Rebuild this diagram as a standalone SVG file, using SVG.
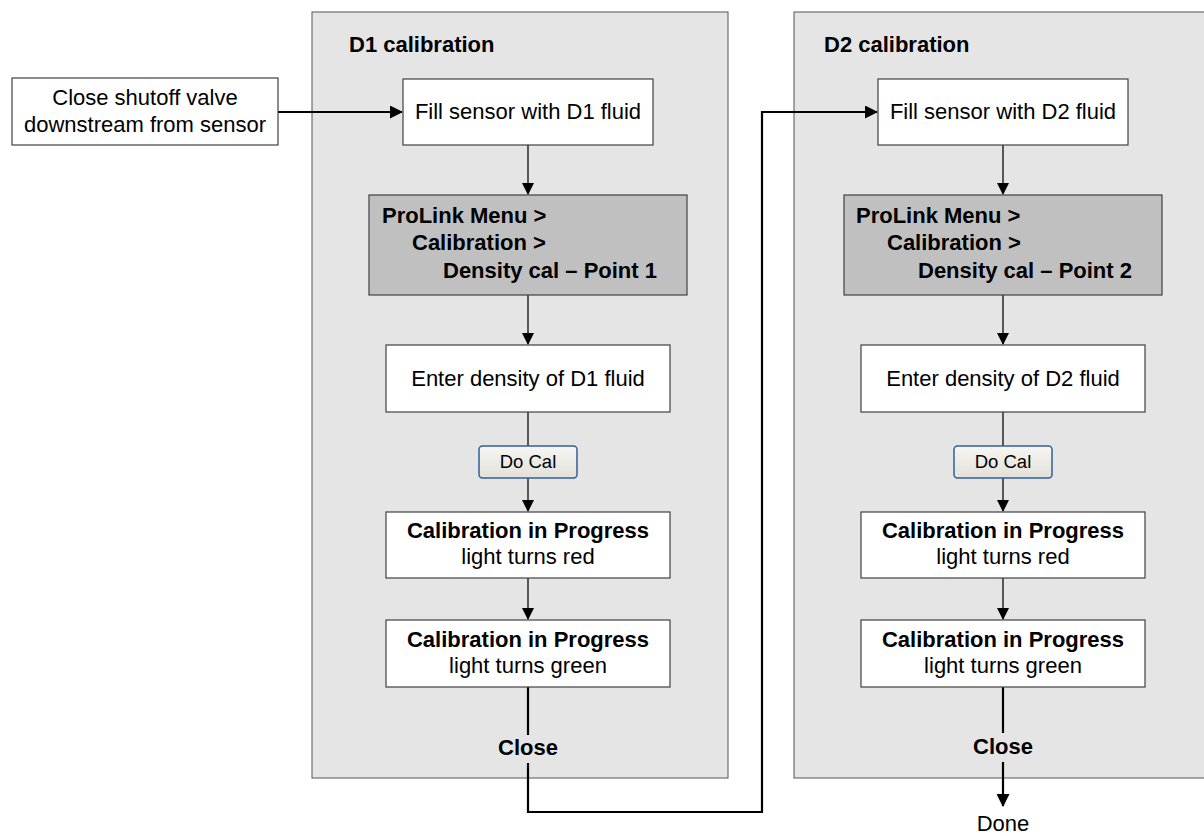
<svg xmlns="http://www.w3.org/2000/svg" width="1204" height="836" viewBox="0 0 1204 836">
  <style>
    text { font-family: "Liberation Sans", Arial, sans-serif; fill: #000; }
    .t { font-size: 22px; }
    .b { font-size: 22px; font-weight: bold; }
    .c { text-anchor: middle; }
    .panel { fill: #e5e5e5; stroke: #555555; stroke-width: 1; }
    .box { fill: #ffffff; stroke: #404040; stroke-width: 1.2; }
    .menu { fill: #c0c0c0; stroke: #404040; stroke-width: 1.2; }
    .btn { fill: url(#btnGrad); stroke: #2f5f9e; stroke-width: 1.5; }
    .btnt { font-size: 18.5px; text-anchor: middle; }
    .thin { fill: none; stroke: #1a1a1a; stroke-width: 1.4; }
    .thick { fill: none; stroke: #000; stroke-width: 2.2; }
  </style>
  <defs>
    <linearGradient id="btnGrad" x1="0" y1="0" x2="0" y2="1">
      <stop offset="0" stop-color="#f7f6f2"/>
      <stop offset="1" stop-color="#e2e0d8"/>
    </linearGradient>
    <marker id="ah" markerUnits="userSpaceOnUse" markerWidth="13" markerHeight="13" refX="12" refY="6.5" orient="auto">
      <path d="M0,0 L13,6.5 L0,13 Z" fill="#000"/>
    </marker>
    <marker id="ahs" markerUnits="userSpaceOnUse" markerWidth="12" markerHeight="12" refX="11" refY="6" orient="auto">
      <path d="M0,0 L12,6 L0,12 Z" fill="#000"/>
    </marker>
  </defs>

  <rect width="1204" height="836" fill="#ffffff"/>

  <g id="panel-d1">
    <rect class="panel" x="312" y="12" width="416" height="766"/>
    <text class="b" x="349" y="52">D1 calibration</text>
  </g>
  <g id="panel-d2">
    <rect class="panel" x="794" y="12" width="416" height="766"/>
    <text class="b" x="824" y="52">D2 calibration</text>
  </g>

  <g id="connectors">
    <path class="thick" d="M278,112 L402,112" marker-end="url(#ah)"/>
    <path class="thin" d="M528,145 L528,194" marker-end="url(#ahs)"/>
    <path class="thin" d="M528,295 L528,344" marker-end="url(#ahs)"/>
    <path class="thin" d="M528,412 L528,446"/>
    <path class="thin" d="M528,478 L528,511" marker-end="url(#ahs)"/>
    <path class="thin" d="M528,578 L528,619" marker-end="url(#ahs)"/>
    <path class="thick" d="M528,687 L528,735"/>
    <path class="thick" d="M528,763 L528,812 L762,812 L762,112 L877,112" marker-end="url(#ah)"/>
    <path class="thin" d="M1003,145 L1003,194" marker-end="url(#ahs)"/>
    <path class="thin" d="M1003,295 L1003,344" marker-end="url(#ahs)"/>
    <path class="thin" d="M1003,412 L1003,446"/>
    <path class="thin" d="M1003,478 L1003,511" marker-end="url(#ahs)"/>
    <path class="thin" d="M1003,578 L1003,619" marker-end="url(#ahs)"/>
    <path class="thick" d="M1003,687 L1003,733"/>
    <path class="thick" d="M1003,762 L1003,806" marker-end="url(#ah)"/>
  </g>

  <g id="close-valve">
    <rect class="box" x="12" y="78" width="266" height="67"/>
    <text class="t c" x="145" y="105">Close shutoff valve</text>
    <text class="t c" x="145" y="132">downstream from sensor</text>
  </g>

  <g id="fill-d1">
    <rect class="box" x="403" y="79" width="250" height="66"/>
    <text class="t c" x="528" y="119">Fill sensor with D1 fluid</text>
  </g>
  <g id="menu-d1">
    <rect class="menu" x="369" y="195" width="318" height="100"/>
    <text class="b" x="382" y="223">ProLink Menu &gt;</text>
    <text class="b" x="412" y="250">Calibration &gt;</text>
    <text class="b" x="443" y="278">Density cal – Point 1</text>
  </g>
  <g id="enter-d1">
    <rect class="box" x="386" y="345" width="284" height="67"/>
    <text class="t c" x="528" y="386">Enter density of D1 fluid</text>
  </g>
  <g id="docal-d1">
    <rect class="btn" x="479" y="446" width="98" height="32" rx="3.5"/>
    <text class="btnt" x="528" y="468">Do Cal</text>
  </g>
  <g id="red-d1">
    <rect class="box" x="386" y="512" width="284" height="66"/>
    <text class="b c" x="528" y="538">Calibration in Progress</text>
    <text class="t c" x="528" y="564">light turns red</text>
  </g>
  <g id="green-d1">
    <rect class="box" x="386" y="620" width="284" height="67"/>
    <text class="b c" x="528" y="647">Calibration in Progress</text>
    <text class="t c" x="528" y="673">light turns green</text>
  </g>
  <g id="close-d1">
    <text class="b c" x="528" y="755">Close</text>
  </g>

  <g id="fill-d2">
    <rect class="box" x="878" y="79" width="250" height="66"/>
    <text class="t c" x="1003" y="119">Fill sensor with D2 fluid</text>
  </g>
  <g id="menu-d2">
    <rect class="menu" x="844" y="195" width="318" height="100"/>
    <text class="b" x="856" y="223">ProLink Menu &gt;</text>
    <text class="b" x="887" y="250">Calibration &gt;</text>
    <text class="b" x="918" y="278">Density cal – Point 2</text>
  </g>
  <g id="enter-d2">
    <rect class="box" x="861" y="345" width="284" height="67"/>
    <text class="t c" x="1003" y="386">Enter density of D2 fluid</text>
  </g>
  <g id="docal-d2">
    <rect class="btn" x="954" y="446" width="98" height="32" rx="3.5"/>
    <text class="btnt" x="1003" y="468">Do Cal</text>
  </g>
  <g id="red-d2">
    <rect class="box" x="861" y="512" width="284" height="66"/>
    <text class="b c" x="1003" y="538">Calibration in Progress</text>
    <text class="t c" x="1003" y="564">light turns red</text>
  </g>
  <g id="green-d2">
    <rect class="box" x="861" y="620" width="284" height="67"/>
    <text class="b c" x="1003" y="647">Calibration in Progress</text>
    <text class="t c" x="1003" y="673">light turns green</text>
  </g>
  <g id="close-d2">
    <text class="b c" x="1003" y="754">Close</text>
  </g>
  <g id="done">
    <text class="t c" x="1003" y="831">Done</text>
  </g>
</svg>
